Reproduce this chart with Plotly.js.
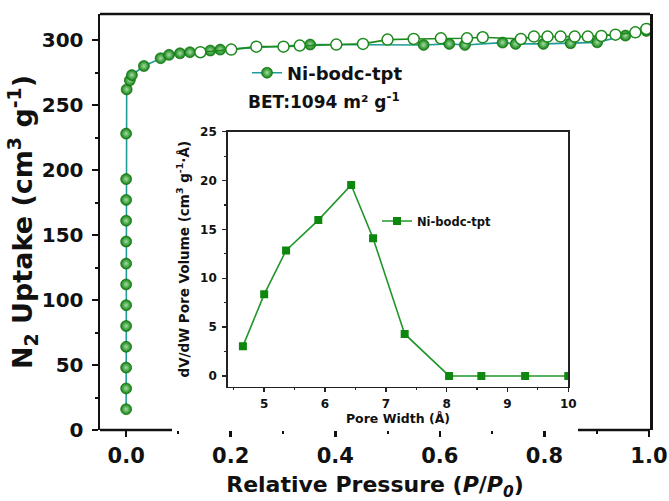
<!DOCTYPE html>
<html>
<head>
<meta charset="utf-8">
<script src="https://cdn.plot.ly/plotly-3.0.1.min.js"></script>
<style>
  html, body { margin: 0; padding: 0; background: #fff; }
  #chart { width: 669px; height: 501px; }
</style>
</head>
<body>
<div id="chart"></div>
<script>
// ---- Main isotherm data (N2, 77 K) ----
const adsPressure = [0, 0, 0, 0, 0, 0, 0, 0, 0, 0, 0, 0, 0, 0.001, 0.007, 0.011, 0.034, 0.066, 0.082, 0.103, 0.122, 0.161, 0.180, 0.352, 0.569, 0.618, 0.648, 0.720, 0.745, 0.798, 0.850, 0.901, 0.955, 0.995];
const adsUptake   = [16, 32, 48, 64, 80, 96, 112, 128, 145, 161, 177, 193, 228, 262, 269, 273, 280, 286, 288.6, 289.8, 290.6, 291.9, 292.6, 296.5, 296.2, 297, 296.2, 298, 297, 297, 297.5, 298.2, 303.4, 307];
const desPressure = [0.995, 0.974, 0.936, 0.909, 0.883, 0.858, 0.831, 0.806, 0.780, 0.755, 0.682, 0.652, 0.602, 0.550, 0.500, 0.453, 0.402, 0.332, 0.301, 0.249, 0.201, 0.142];
const desUptake   = [308.5, 305.9, 304.1, 303.1, 302.6, 302.6, 302.6, 302.6, 302.6, 300.8, 302.1, 301.3, 301.3, 300.8, 300.3, 297, 296.5, 295.7, 294.9, 294.9, 292.6, 290.6];

// ---- Inset: pore size distribution ----
const poreWidth  = [4.65, 5.0, 5.36, 5.89, 6.43, 6.79, 7.31, 8.04, 8.57, 9.29, 10.0];
const poreVolume = [3.05, 8.35, 12.85, 15.95, 19.55, 14.1, 4.3, 0, 0, 0, 0];

// ---- Tick labels ----
const mainXTicks = [0, 0.2, 0.4, 0.6, 0.8, 1.0];
const mainXTickText = ['0.0', '0.2', '0.4', '0.6', '0.8', '1.0'];
const mainYTicks = [0, 50, 100, 150, 200, 250, 300];
const insetXTicks = [5, 6, 7, 8, 9, 10];
const insetYTicks = [0, 5, 10, 15, 20, 25];

const seriesName = 'Ni-bodc-tpt';
const betText = 'BET:1094 m² g<sup>-1</sup>';

const FONT = 'DejaVu Sans, Liberation Sans, Arial, sans-serif';
const AX = '#111111';

const traces = [
  {
    x: adsPressure, y: adsUptake, type: 'scatter', mode: 'lines+markers',
    name: seriesName, legend: 'legend',
    line: { color: '#1f9c98', width: 1.6 },
    marker: { symbol: 'circle', size: 11, color: '#0b7f0b',
              gradient: { type: 'radial', color: '#a6dca6' },
              line: { color: '#066806', width: 0.6 } },
    xaxis: 'x', yaxis: 'y'
  },
  {
    x: desPressure, y: desUptake, type: 'scatter', mode: 'lines+markers',
    name: seriesName + ' desorption', showlegend: false,
    line: { color: '#1c8a1c', width: 1.6 },
    marker: { symbol: 'circle', size: 11, color: '#ffffff',
              line: { color: '#1c8a1c', width: 1.5 } },
    xaxis: 'x', yaxis: 'y'
  },
  {
    x: poreWidth, y: poreVolume, type: 'scatter', mode: 'lines+markers',
    name: seriesName, legend: 'legend2',
    line: { color: '#22962a', width: 1.6 },
    marker: { symbol: 'square', size: 8, color: '#0d870d' },
    xaxis: 'x2', yaxis: 'y2'
  }
];

const x0 = 100, x1 = 650;
const px = v => (v - x0) / (x1 - x0);

const layout = {
  width: 669, height: 501,
  margin: { l: 100, r: 19, t: 14, b: 71 },
  paper_bgcolor: '#ffffff', plot_bgcolor: 'rgba(0,0,0,0)',
  font: { family: FONT, color: '#111', weight: 'bold' },
  showlegend: true,
  xaxis: {
    domain: [0, 1], range: [-0.05, 1.002],
    tickvals: mainXTicks, ticktext: mainXTickText,
    ticks: 'outside', ticklen: 6, tickwidth: 2.5, tickcolor: AX,
    minor: { dtick: 0.1, tick0: 0, ticks: 'outside', ticklen: 3, tickwidth: 2, tickcolor: AX },
    showline: false, showgrid: false, zeroline: false,
    tickfont: { size: 21, family: FONT, weight: 'bold' },
    ticklabelstandoff: 1,
    title: { text: 'Relative Pressure (<i>P</i>/<i>P</i><sub><i>0</i></sub>)', font: { size: 22, family: FONT, weight: 'bold' }, standoff: 14 }
  },
  yaxis: {
    domain: [0, 1], range: [0, 320],
    tickvals: mainYTicks,
    ticks: 'outside', ticklen: 6, tickwidth: 2.5, tickcolor: AX,
    minor: { dtick: 25, tick0: 0, ticks: 'outside', ticklen: 3, tickwidth: 2, tickcolor: AX },
    showline: true, linewidth: 2.5, linecolor: AX, mirror: true,
    showgrid: false, zeroline: false,
    tickfont: { size: 20, family: FONT, weight: 'bold' },
    ticklabelstandoff: 4,
    title: { text: 'N<sub>2</sub> Uptake (cm<sup>3</sup> g<sup>-1</sup>)', font: { size: 27, family: FONT, weight: 'bold' }, standoff: 0 }
  },
  xaxis2: {
    domain: [px(227.7), px(568.3)], anchor: 'y2', range: [4.4, 10.0],
    tickvals: insetXTicks,
    ticks: 'outside', ticklen: 4, tickwidth: 1.5, tickcolor: '#222',
    minor: { dtick: 0.5, tick0: 0, ticks: 'outside', ticklen: 2, tickwidth: 1.2, tickcolor: '#222' },
    showline: true, linewidth: 1.5, linecolor: '#222', mirror: true,
    showgrid: false, zeroline: false,
    tickfont: { size: 12, family: FONT, weight: 'bold' },
    ticklabelstandoff: 1,
    title: { text: 'Pore Width (Å)', font: { size: 12.5, family: FONT, weight: 'bold' }, standoff: 4 }
  },
  yaxis2: {
    domain: [(430 - 386.7) / 416, (430 - 131.7) / 416], anchor: 'x2', range: [-1.1, 25],
    tickvals: insetYTicks,
    ticks: 'outside', ticklen: 4, tickwidth: 1.5, tickcolor: '#222',
    minor: { dtick: 2.5, tick0: 0, ticks: 'outside', ticklen: 2, tickwidth: 1.2, tickcolor: '#222' },
    showline: true, linewidth: 1.5, linecolor: '#222', mirror: true,
    showgrid: false, zeroline: false,
    tickfont: { size: 12, family: FONT, weight: 'bold' },
    ticklabelstandoff: 3,
    title: { text: 'dV/dW Pore Volume (cm<sup>3</sup> g<sup>-1</sup>·Å)', font: { size: 13.5, family: FONT, weight: 'bold' }, standoff: 7 }
  },
  legend: {
    x: px(247), y: (430 - 73) / 416, xanchor: 'left', yanchor: 'middle',
    bgcolor: 'rgba(0,0,0,0)', borderwidth: 0,
    font: { size: 18, family: FONT, weight: 'bold', color: '#111' },
    itemsizing: 'trace'
  },
  legend2: {
    x: px(377), y: (430 - 221) / 416, xanchor: 'left', yanchor: 'middle',
    bgcolor: 'rgba(0,0,0,0)', borderwidth: 0,
    font: { size: 11.5, family: FONT, weight: 'bold', color: '#111' },
    itemsizing: 'trace'
  },
  annotations: [
    { xref: 'paper', yref: 'paper', x: px(246), y: (430 - 101) / 416,
      xanchor: 'left', yanchor: 'middle', showarrow: false,
      text: betText, font: { size: 17, family: FONT, weight: 'bold', color: '#111' } }
  ],
  shapes: [
    // top border of main frame
    { type: 'line', xref: 'paper', yref: 'paper', x0: 0, x1: 1, y0: 1, y1: 1, line: { color: AX, width: 2.5 } },
    // bottom border of main frame, interrupted where the inset box sits
    { type: 'line', xref: 'paper', yref: 'paper', x0: 0, x1: px(172), y0: 0, y1: 0, line: { color: AX, width: 2.5 } },
    { type: 'line', xref: 'paper', yref: 'paper', x0: px(578), x1: 1, y0: 0, y1: 0, line: { color: AX, width: 2.5 } }
  ]
};

Plotly.newPlot('chart', traces, layout, { staticPlot: true, displayModeBar: false });
</script>
</body>
</html>
